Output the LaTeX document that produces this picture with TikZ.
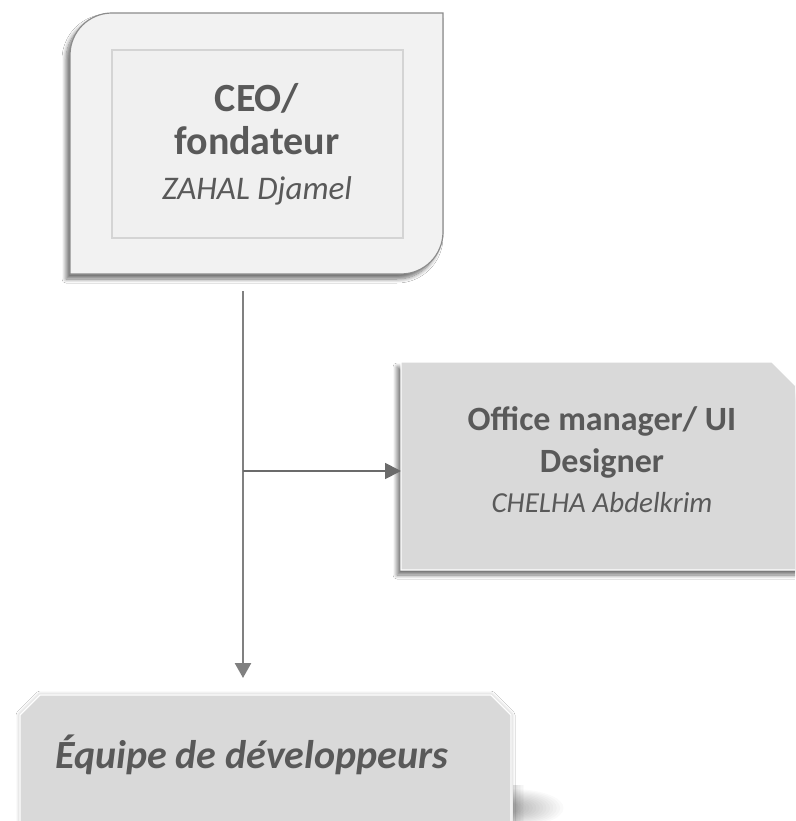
\documentclass[tikz,border=0pt]{standalone}
\usepackage{fontspec}
\setmainfont{Carlito}
\usetikzlibrary{arrows.meta,shadows.blur}

\definecolor{txtgray}{HTML}{595959}
\definecolor{boxlight}{HTML}{F2F2F2}
\definecolor{boxinner}{HTML}{F0F0F0}
\definecolor{boxmid}{HTML}{D9D9D9}
\definecolor{edgegray}{HTML}{8C8C8C}
\definecolor{linegray}{HTML}{808080}

\tikzset{
  softshadow/.style={blur shadow={shadow xshift=-4pt, shadow yshift=-5pt,
      shadow blur radius=4pt, shadow blur steps=8, shadow opacity=55}},
  glowshadow/.style={blur shadow={shadow xshift=0pt, shadow yshift=0pt,
      shadow blur radius=4pt, shadow blur steps=6, shadow opacity=30}},
  ceoframe/.style={fill=boxlight, draw=edgegray, line width=1.2pt, softshadow},
  ceoinner/.style={fill=boxinner, draw=black!17, line width=2.5pt},
  graybox/.style={fill=boxmid, draw=white, line width=1.2pt},
  title/.style={text=txtgray, font=\bfseries\fontsize{40}{46}\selectfont, inner sep=0pt},
  subtitle/.style={text=txtgray, font=\bfseries\fontsize{34}{40}\selectfont, inner sep=0pt},
  ceoname/.style={text=txtgray, font=\itshape\fontsize{33}{40}\selectfont, inner sep=0pt},
  officename/.style={text=txtgray, font=\itshape\fontsize{29}{34}\selectfont, inner sep=0pt},
  teamlabel/.style={text=txtgray, font=\bfseries\itshape\fontsize{40}{46}\selectfont, inner sep=0pt},
  trunk/.style={draw=linegray, line width=2.6pt, -{Triangle[length=15pt,width=16pt]}},
  branch/.style={draw=black!58, line width=1.8pt, -{Triangle[length=16pt,width=16pt]}},
}

\begin{document}
\begin{tikzpicture}[x=1pt,y=1pt]
\useasboundingbox (0,0) rectangle (795,-821);
\clip (0,0) rectangle (795,-821);
\fill[white] (0,0) rectangle (795,-821);

% CEO frame: rounded top-left and bottom-right corners
\path[ceoframe] (70,-274) -- (70,-55)
  arc[start angle=180, end angle=90, radius=42pt] -- (443,-13) -- (443,-232)
  arc[start angle=0, end angle=-90, radius=42pt] -- cycle;
\path[ceoinner] (112,-50) rectangle (403,-238);
\node[title, anchor=base] (ceo1) at (257,-112) {CEO/};
\node[title, anchor=base] (ceo2) at (257,-155) {fondateur};
\node[ceoname, anchor=base] (ceo3) at (257,-200) {ZAHAL Djamel};

% Office manager box, top-right corner cut
\path[graybox, softshadow] (401,-570) -- (401,-362) -- (772,-362) -- (830,-420)
  -- (830,-570) -- cycle;
\coordinate (officeW) at (401,-471);
\node[subtitle, anchor=base] (off1) at (602,-430) {Office manager/ UI};
\node[subtitle, anchor=base] (off2) at (602,-472) {Designer};
\node[officename, anchor=base] (off3) at (602,-512) {CHELHA Abdelkrim};

% Soft cast shadow at the lower right of the team box
\begin{scope}
  \clip (513,-770) rectangle (620,-821);
  \foreach \k in {1,...,14}{
    \fill[black, opacity=0.018] (513,-808) ellipse[x radius={54-3.4*\k}, y radius={20-1.1*\k}];
  }
  \foreach \k in {1,...,6}{
    \fill[black, opacity=0.02] (513,-785) rectangle ({515+1.5*\k},-821);
  }
\end{scope}

% Developer team box, both top corners cut
\path[graybox, glowshadow] (20,-860) -- (20,-715) -- (40,-695) -- (491,-695)
  -- (511,-715) -- (511,-860) -- cycle;
\coordinate (devN) at (243,-678);
\node[teamlabel, anchor=base west] (dev) at (55,-768) {Équipe de développeurs};

% Connectors
\coordinate (trunkTop) at (243,-291);
\coordinate (split) at (243,-471);
\draw[trunk] (trunkTop) -- (devN);
\draw[branch] (split) -- (officeW);
\end{tikzpicture}
\end{document}
